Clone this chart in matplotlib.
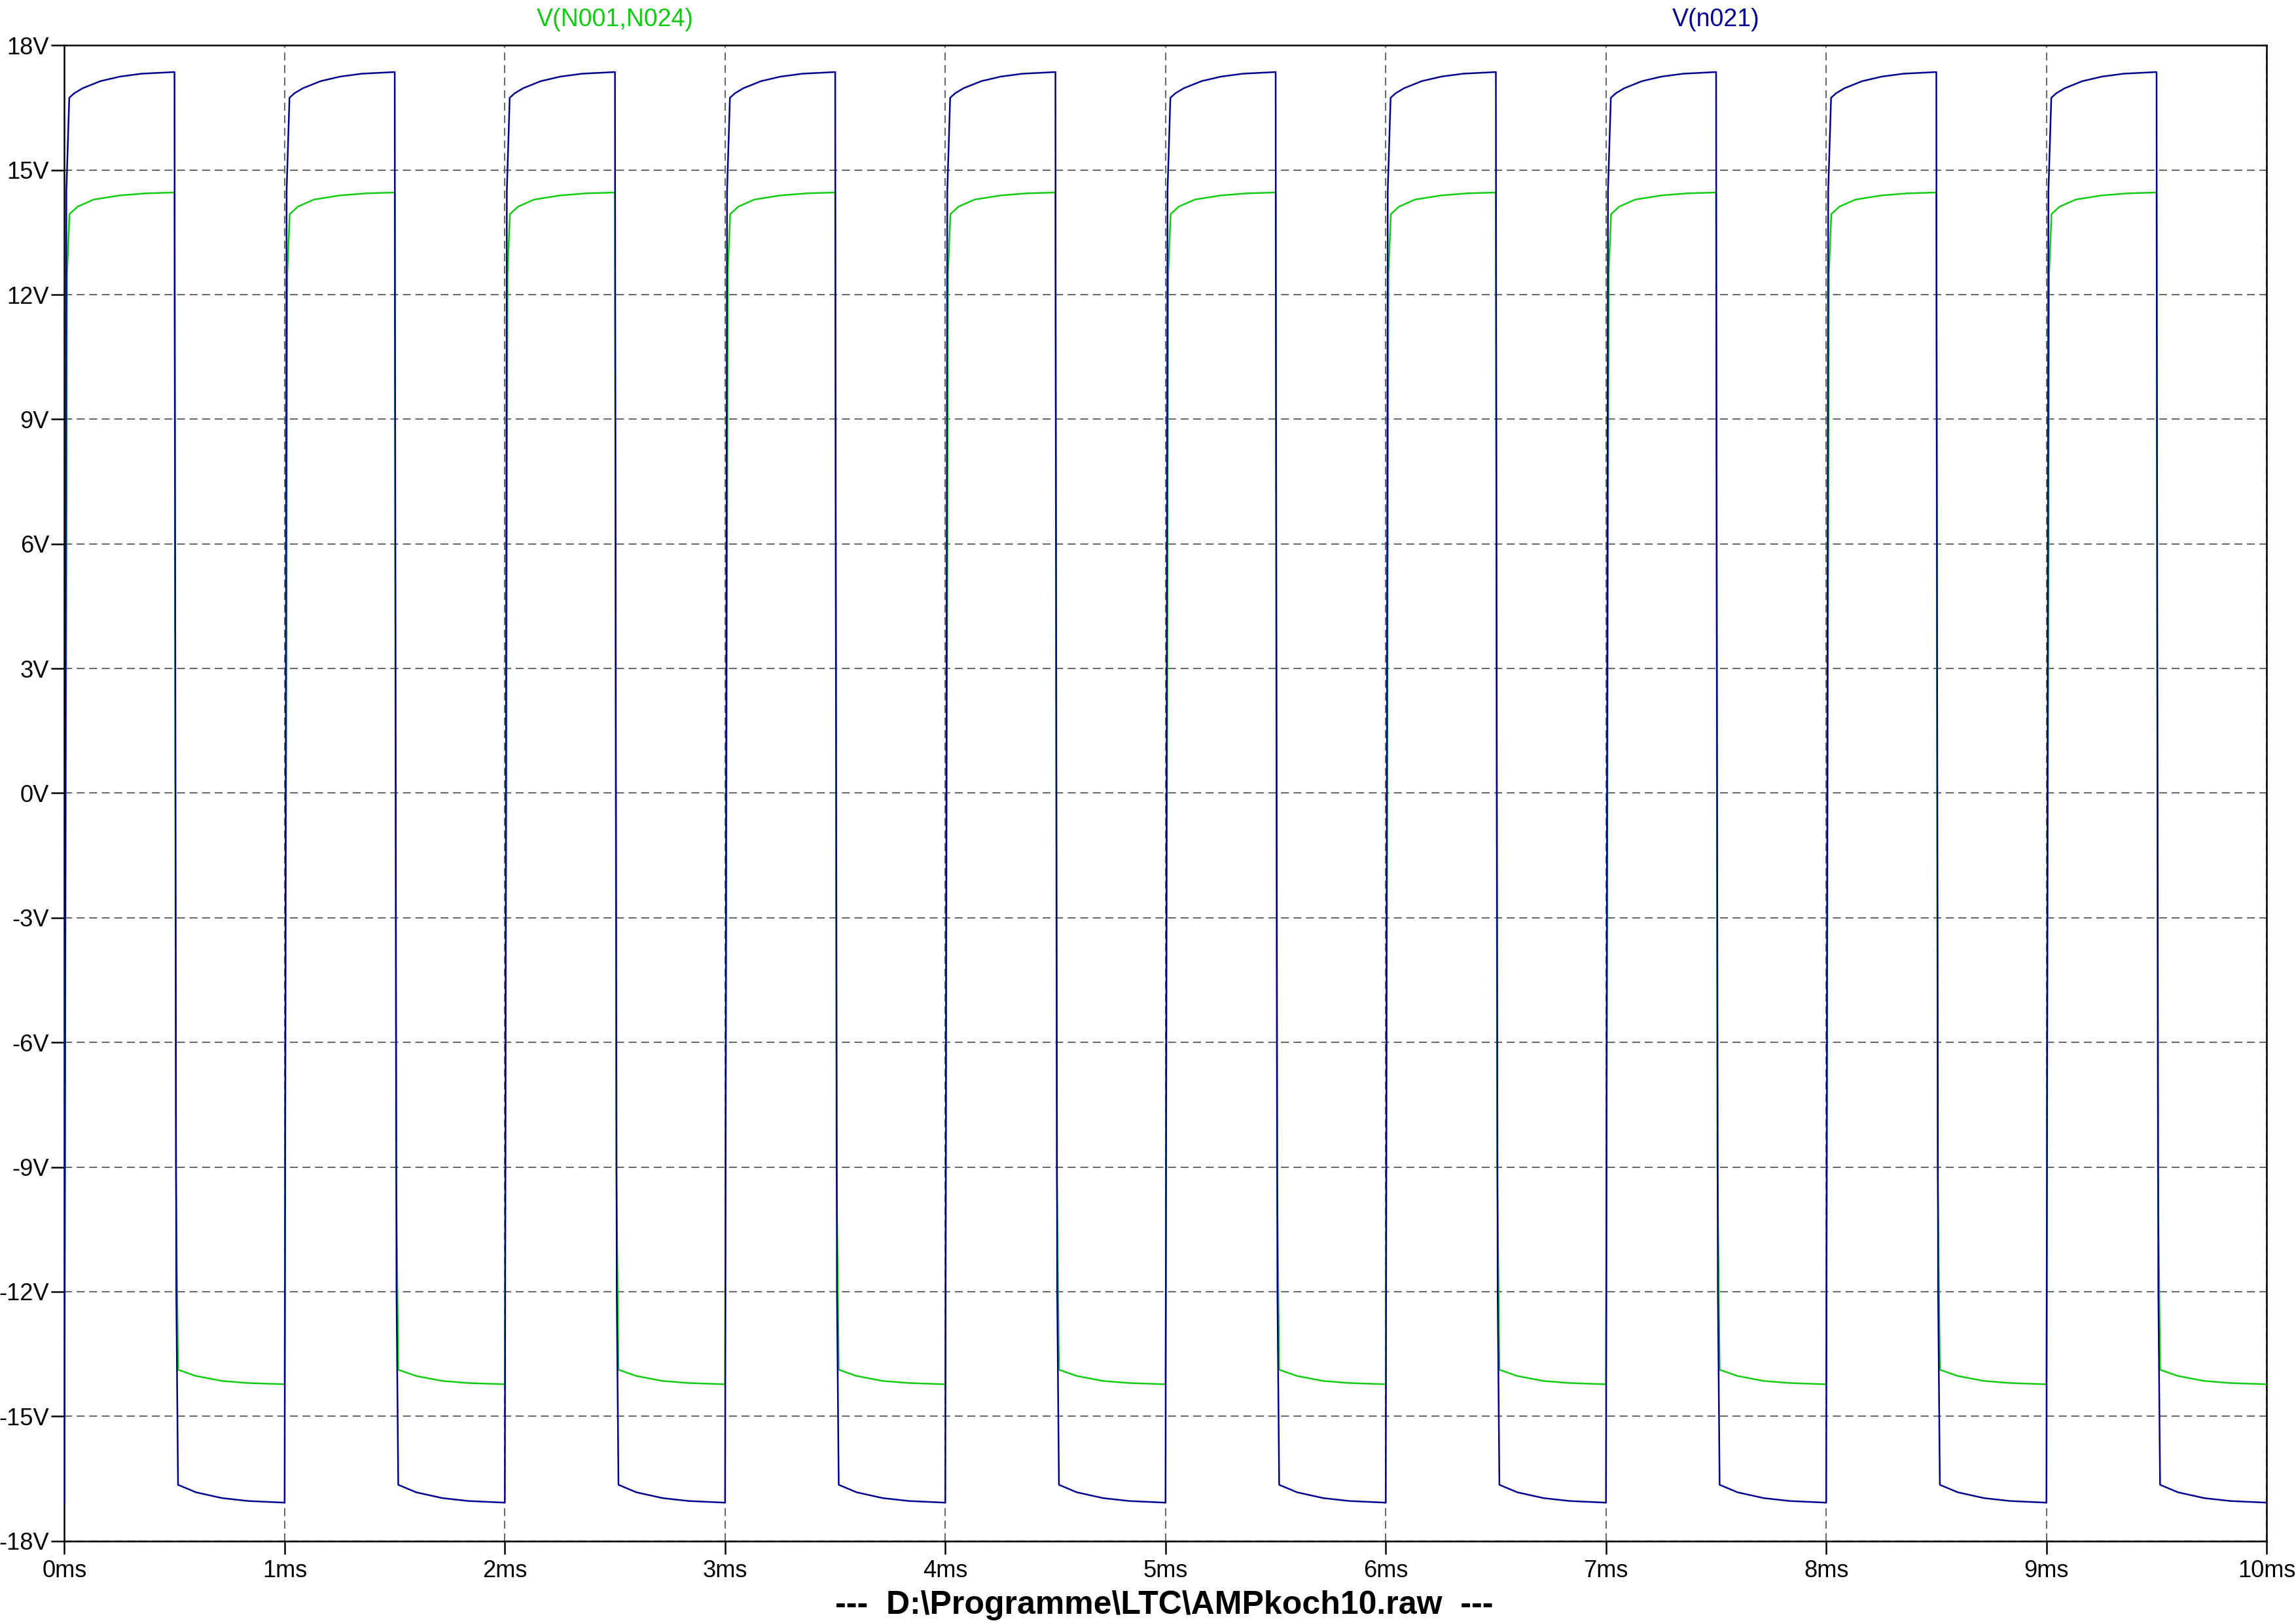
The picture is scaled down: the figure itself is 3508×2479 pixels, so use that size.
import matplotlib
matplotlib.use("Agg")
import matplotlib.pyplot as plt
import numpy as np

# ---- data ----
# start time of each cycle (ms)
cycle_starts = [0, 1, 2, 3, 4, 5, 6, 7, 8, 9]

# V(n021): one cycle, offsets in ms and voltages in V
blue_t = [0.000, 0.009, 0.022, 0.045, 0.083, 0.163, 0.252, 0.351, 0.500,
          0.501, 0.508, 0.516, 0.597, 0.716, 0.835, 1.000]
blue_v = [-17.08, 14.5, 16.74, 16.85, 16.97, 17.14, 17.25, 17.32, 17.36,
          11.8, -12.0, -16.65, -16.83, -16.97, -17.04, -17.08]

# V(N001,N024): one cycle
green_t = [0.000, 0.012, 0.023, 0.060, 0.133, 0.252, 0.371, 0.500,
           0.506, 0.516, 0.597, 0.716, 0.835, 1.000]
green_v = [-14.23, 12.5, 13.94, 14.12, 14.29, 14.39, 14.44, 14.46,
           -9.0, -13.88, -14.03, -14.15, -14.20, -14.23]

x_ticks = [0, 1, 2, 3, 4, 5, 6, 7, 8, 9, 10]
x_labels = ["0ms", "1ms", "2ms", "3ms", "4ms", "5ms", "6ms", "7ms", "8ms", "9ms", "10ms"]
y_ticks = [-18, -15, -12, -9, -6, -3, 0, 3, 6, 9, 12, 15, 18]
y_labels = ["-18V", "-15V", "-12V", "-9V", "-6V", "-3V", "0V", "3V", "6V", "9V", "12V", "15V", "18V"]

trace_names = ["V(N001,N024)", "V(n021)"]
title = "---  D:\\Programme\\LTC\\AMPkoch10.raw  ---"

# ---- build traces by repeating the read cycle ----
def tile(starts, t_off, v):
    tt, vv = [], []
    for s in starts:
        tt.extend([s + t for t in t_off])
        vv.extend(v)
    return np.array(tt), np.array(vv)

bt, bv = tile(cycle_starts, blue_t, blue_v)
gt, gv = tile(cycle_starts, green_t, green_v)

plt.rcParams['font.family'] = ['Liberation Sans', 'DejaVu Sans']

fig = plt.figure(figsize=(3508 / 300, 2479 / 300), dpi=300)
ax = fig.add_axes([0.02805, 0.0506, 0.98723 - 0.02805, 0.972 - 0.0506])

GREEN = "#10cc10"
BLUE = "#000090"

ax.plot(gt, gv, color=GREEN, lw=0.6, zorder=3)
ax.plot(bt, bv, color=BLUE, lw=0.6, zorder=4)

ax.set_xlim(0, 10)
ax.set_ylim(-18, 18)
ax.set_xticks(x_ticks)
ax.set_xticklabels(x_labels)
ax.set_yticks(y_ticks)
ax.set_yticklabels(y_labels)
ax.tick_params(axis='both', direction='out', length=4.8, width=0.6,
               labelsize=8.7, colors='black')
ax.tick_params(axis='x', pad=2.0)
ax.tick_params(axis='y', pad=0.8)
for sp in ax.spines.values():
    sp.set_linewidth(0.6)
    sp.set_color('black')

ax.grid(True, which='major', linestyle=(0, (5.8, 3.4)), color='#6a6a6a', linewidth=0.5)
ax.set_axisbelow(True)

fig.text(0.268, 0.988, trace_names[0], color=GREEN, fontsize=9.0, ha='center', va='center')
fig.text(0.7474, 0.988, trace_names[1], color=BLUE, fontsize=9.0, ha='center', va='center')
fig.text(0.5071, 0.0109, title, fontsize=12.0, fontweight='bold', ha='center', va='center')

fig.savefig("out.png", dpi=300, facecolor='white')
